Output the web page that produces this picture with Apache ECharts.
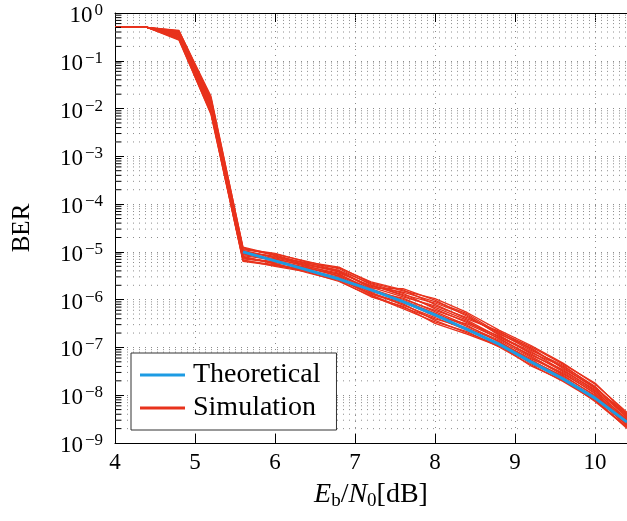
<!DOCTYPE html>
<html><head><meta charset="utf-8">
<script src="https://cdn.jsdelivr.net/npm/echarts@6/dist/echarts.min.js"></script>
<style>html,body{margin:0;padding:0;background:#fff}#c{width:627px;height:521px}</style>
</head><body><div id="c"></div>
<script>
// ---- data ----
const ebn0 = [4.0, 4.4, 4.8, 5.2, 5.6, 6.0, 6.4, 6.8, 7.2, 7.6, 8.0, 8.4, 8.8, 9.2, 9.6, 10.0, 10.4];
const theoryEbn0 = [5.6, 6.0, 6.4, 6.8, 7.2, 7.6, 8.0, 8.4, 8.8, 9.2, 9.6, 10.0, 10.4];
const theoryBER = [1.0e-5, 6.5e-6, 4.2e-6, 2.7e-6, 1.6e-6, 9.1e-7, 4.8e-7, 2.4e-7, 1.17e-7, 5.0e-8, 2.2e-8, 8.7e-9, 2.75e-9];

const sim01 = [0.5, 0.5, 0.43, 1.65e-2, 1.26e-5, 8.64e-6, 5.56e-6, 3.76e-6, 1.90e-6, 1.43e-6, 9.13e-7, 5.08e-7, 1.99e-7, 8.71e-8, 4.24e-8, 1.46e-8, 3.66e-9];
const sim02 = [0.5, 0.5, 0.41, 1.49e-2, 1.07e-5, 7.47e-6, 5.39e-6, 4.08e-6, 2.16e-6, 1.36e-6, 6.44e-7, 3.30e-7, 1.73e-7, 8.22e-8, 3.27e-8, 1.32e-8, 3.49e-9];
const sim03 = [0.5, 0.5, 0.30, 8.3e-3, 7.42e-6, 6.22e-6, 4.33e-6, 2.71e-6, 1.25e-6, 6.88e-7, 3.95e-7, 2.58e-7, 1.36e-7, 5.17e-8, 2.53e-8, 1.01e-8, 2.77e-9];
const sim04 = [0.5, 0.5, 0.355, 1.23e-2, 8.73e-6, 6.94e-6, 5.22e-6, 3.92e-6, 1.75e-6, 1.70e-6, 9.79e-7, 4.49e-7, 1.90e-7, 9.79e-8, 3.63e-8, 1.46e-8, 3.83e-9];
const sim05 = [0.5, 0.5, 0.27, 7.9e-3, 6.30e-6, 5.19e-6, 4.06e-6, 2.60e-6, 1.36e-6, 8.62e-7, 4.87e-7, 2.43e-7, 1.18e-7, 4.60e-8, 2.28e-8, 9.12e-9, 2.30e-9];
const sim06 = [0.5, 0.5, 0.38, 1.42e-2, 1.16e-5, 9.30e-6, 6.10e-6, 4.80e-6, 2.25e-6, 1.52e-6, 1.05e-6, 5.40e-7, 2.30e-7, 1.10e-7, 4.70e-8, 1.71e-8, 4.40e-9];
const sim07 = [0.5, 0.5, 0.33, 9.6e-3, 8.05e-6, 5.58e-6, 3.94e-6, 2.83e-6, 1.48e-6, 1.08e-6, 5.60e-7, 2.92e-7, 1.30e-7, 5.81e-8, 2.95e-8, 1.07e-8, 2.64e-9];
const sim08 = [0.5, 0.5, 0.40, 1.57e-2, 1.03e-5, 8.03e-6, 5.92e-6, 4.08e-6, 1.82e-6, 1.14e-6, 7.40e-7, 4.23e-7, 2.09e-7, 1.04e-7, 4.47e-8, 1.80e-8, 4.01e-9];
const sim09 = [0.5, 0.5, 0.28, 7.5e-3, 6.84e-6, 5.00e-6, 3.82e-6, 2.40e-6, 1.20e-6, 6.50e-7, 3.43e-7, 2.15e-7, 1.02e-7, 4.35e-8, 1.95e-8, 7.80e-9, 2.19e-9];
const sim10 = [0.5, 0.5, 0.36, 1.29e-2, 9.87e-6, 7.74e-6, 5.73e-6, 4.61e-6, 2.35e-6, 1.61e-6, 7.94e-7, 3.97e-7, 2.19e-7, 9.23e-8, 3.82e-8, 1.39e-8, 4.20e-9];
const sim11 = [0.5, 0.5, 0.32, 1.01e-2, 7.73e-6, 5.78e-6, 3.70e-6, 2.50e-6, 1.15e-6, 7.28e-7, 3.20e-7, 1.90e-7, 1.07e-7, 4.88e-8, 2.16e-8, 7.40e-9, 2.10e-9];
const sim12 = [0.5, 0.5, 0.42, 1.80e-2, 1.21e-5, 8.33e-6, 5.06e-6, 3.33e-6, 1.68e-6, 1.02e-6, 6.00e-7, 3.51e-7, 1.50e-7, 6.91e-8, 3.45e-8, 1.25e-8, 3.04e-9];
const sim13 = [0.5, 0.5, 0.35, 1.06e-2, 9.10e-6, 7.20e-6, 4.90e-6, 3.61e-6, 1.98e-6, 1.28e-6, 8.51e-7, 4.78e-7, 1.81e-7, 7.32e-8, 3.11e-8, 1.19e-8, 3.18e-9];
const sim14 = [0.5, 0.5, 0.29, 8.7e-3, 6.56e-6, 5.38e-6, 4.19e-6, 2.94e-6, 1.30e-6, 8.15e-7, 3.68e-7, 2.02e-7, 1.12e-7, 4.10e-8, 2.05e-8, 8.22e-9, 2.00e-9];
const sim15 = [0.5, 0.5, 0.39, 1.35e-2, 1.12e-5, 8.96e-6, 6.30e-6, 4.43e-6, 2.07e-6, 1.21e-6, 6.90e-7, 3.74e-7, 1.65e-7, 7.76e-8, 4.03e-8, 1.54e-8, 3.33e-9];
const sim16 = [0.5, 0.5, 0.34, 1.11e-2, 8.38e-6, 6.69e-6, 4.46e-6, 3.47e-6, 1.54e-6, 9.12e-7, 4.54e-7, 3.11e-7, 1.57e-7, 6.52e-8, 2.80e-8, 1.13e-8, 2.90e-9];
const sim17 = [0.5, 0.5, 0.37, 1.17e-2, 9.48e-6, 6.45e-6, 4.75e-6, 3.07e-6, 1.42e-6, 7.70e-7, 4.23e-7, 2.29e-7, 1.24e-7, 5.48e-8, 2.40e-8, 8.66e-9, 2.41e-9];
const sim18 = [0.5, 0.5, 0.31, 9.1e-3, 7.12e-6, 6.00e-6, 4.61e-6, 3.19e-6, 1.61e-6, 9.65e-7, 5.22e-7, 2.75e-7, 1.43e-7, 6.15e-8, 2.66e-8, 9.61e-9, 2.52e-9];

const xTicks = [4, 5, 6, 7, 8, 9, 10];
const yDecades = [-9, -8, -7, -6, -5, -4, -3, -2, -1, 0];
const minorMantissas = [2, 3, 4, 5, 6, 7, 8, 9];
const legendNames = ['Theoretical', 'Simulation'];

// ---- styles ----
const FONT = 'Liberation Serif';
const RED = '#e8321c';
const BLUE = '#1c9be3';
const GRIDC = '#8c8c8c';
const DOT = [1, 5];
const X_MIN = 4, X_MAX = 10.4;
const MINOR_TICK_LEN = 0.075; // in x data units (~6px)

const simulations = [sim01, sim02, sim03, sim04, sim05, sim06, sim07, sim08, sim09,
                     sim10, sim11, sim12, sim13, sim14, sim15, sim16, sim17, sim18];

const minorValues = [];
yDecades.slice(0, -1).forEach(k => minorMantissas.forEach(m => minorValues.push(m * Math.pow(10, k))));

const chart = echarts.init(document.getElementById('c'), null, {renderer: 'canvas'});

const series = [];
// minor horizontal grid lines
minorValues.forEach(v => {
  series.push({
    type: 'line', z: 1, silent: true, animation: false, symbol: 'none',
    data: [[X_MIN, v], [X_MAX, v]],
    lineStyle: {type: DOT, color: GRIDC, width: 1},
    emphasis: {disabled: true}
  });
});
// minor ticks on the left axis
minorValues.forEach(v => {
  series.push({
    type: 'line', z: 5, silent: true, animation: false, symbol: 'none',
    data: [[X_MIN, v], [X_MIN + MINOR_TICK_LEN, v]],
    lineStyle: {type: 'solid', color: '#000', width: 1},
    emphasis: {disabled: true}
  });
});
simulations.forEach(sim => {
  series.push({
    name: 'Simulation', type: 'line', z: 2,
    data: ebn0.map((x, i) => [x, sim[i]]),
    symbol: 'none', showSymbol: false, animation: false, silent: true,
    lineStyle: {color: RED, width: 1.3}, itemStyle: {color: RED}
  });
});
series.push({
  name: 'Theoretical', type: 'line', z: 3,
  data: theoryEbn0.map((x, i) => [x, theoryBER[i]]),
  symbol: 'none', showSymbol: false, animation: false, silent: true,
  lineStyle: {color: BLUE, width: 3}, itemStyle: {color: BLUE}
});

const supExp = k => (k < 0 ? '\u2212' + (-k) : String(k));

chart.setOption({
  animation: false,
  backgroundColor: '#fff',
  grid: {left: 115, top: 13, right: -5, bottom: 78, containLabel: false},
  legend: {
    data: legendNames.map(n => ({name: n})),
    orient: 'vertical', left: 131, top: 353,
    padding: [8, 16, 8, 9],
    itemWidth: 45, itemHeight: 3, itemGap: 5,
    icon: 'rect',
    borderColor: '#333', borderWidth: 1, borderRadius: 0,
    backgroundColor: '#fff',
    selectedMode: false,
    textStyle: {fontFamily: FONT, fontSize: 28, color: '#000', lineHeight: 28, padding: [0, 0, 0, 3]}
  },
  xAxis: [{
    type: 'value', min: X_MIN, max: X_MAX, interval: 1, position: 'bottom',
    axisLine: {onZero: false, lineStyle: {color: '#000', width: 1}},
    axisTick: {inside: true, length: 9, lineStyle: {color: '#000'}},
    axisLabel: {showMaxLabel: false, fontFamily: FONT, fontSize: 23, color: '#000', margin: 8},
    splitLine: {show: true, lineStyle: {type: DOT, color: GRIDC, width: 1}},
    name: '{i|E}{sb|b}{n|/}{i|N}{sb|0}{n|[dB]}',
    nameLocation: 'middle', nameGap: 36,
    nameTextStyle: {
      rich: {
        i: {fontFamily: FONT, fontStyle: 'italic', fontSize: 28, color: '#000', lineHeight: 32},
        n: {fontFamily: FONT, fontSize: 28, color: '#000', lineHeight: 32},
        sb: {fontFamily: FONT, fontSize: 19, color: '#000', lineHeight: 22, verticalAlign: 'bottom'}
      }
    }
  }, {
    type: 'value', min: X_MIN, max: X_MAX, interval: 1, position: 'top',
    axisLine: {onZero: false, lineStyle: {color: '#000', width: 1}},
    axisTick: {inside: true, length: 9, lineStyle: {color: '#000'}},
    axisLabel: {show: false}, splitLine: {show: false}
  }],
  yAxis: {
    type: 'log', logBase: 10, min: 1e-9, max: 1, splitNumber: 9,
    axisLine: {show: true, lineStyle: {color: '#000', width: 1}},
    axisTick: {show: true, inside: true, length: 9, lineStyle: {color: '#000'}},
    splitLine: {show: true, lineStyle: {type: DOT, color: GRIDC, width: 1}},
    axisLabel: {
      margin: 12, padding: [6, 0, 0, 0],
      formatter: v => '{b|10}{s|' + supExp(Math.round(Math.log10(v))) + '}',
      rich: {
        b: {fontFamily: FONT, fontSize: 23, color: '#000', lineHeight: 28},
        s: {fontFamily: FONT, fontSize: 17, color: '#000', lineHeight: 16, verticalAlign: 'top', padding: [0, 0, 0, 2]}
      }
    },
    name: 'BER', nameLocation: 'middle', nameGap: 80,
    nameTextStyle: {fontFamily: FONT, fontSize: 25, color: '#000'}
  },
  series: series
});
</script>
</body></html>
